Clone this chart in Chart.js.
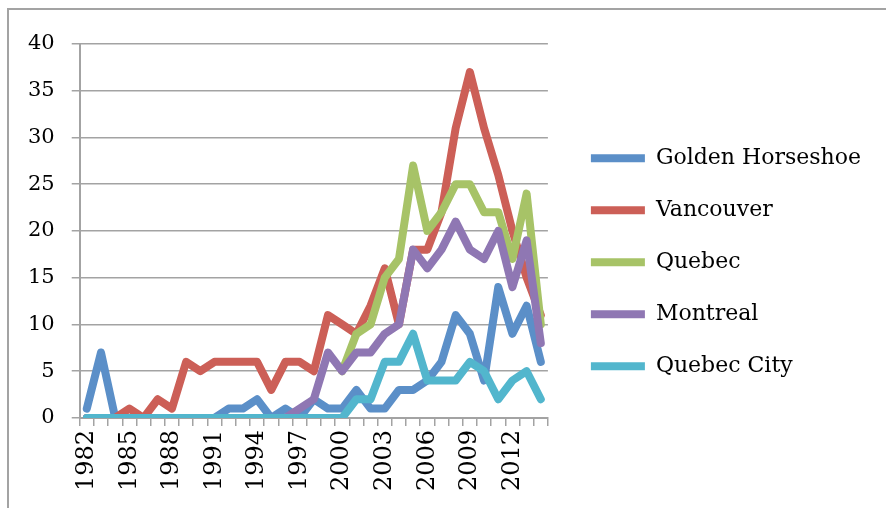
<!DOCTYPE html>
<html>
<head>
<meta charset="utf-8">
<script src="https://cdn.jsdelivr.net/npm/chart.js@4.4.1/dist/chart.umd.min.js"></script>
<style>
  body { margin: 0; background: #fff; overflow: hidden; }
  #frame { position: absolute; left: 7px; top: 8px; width: 1000px; height: 1000px; border: 2px solid #a3a3a3; }
  #myChart { position: absolute; left: 0; top: 0; }
</style>
</head>
<body>
<div id="frame"></div>
<canvas id="myChart" width="886" height="508"></canvas>
<script>
const years = ['1982','1983','1984','1985','1986','1987','1988','1989','1990','1991',
  '1992','1993','1994','1995','1996','1997','1998','1999','2000','2001',
  '2002','2003','2004','2005','2006','2007','2008','2009','2010','2011',
  '2012','2013','2014'];

const goldenHorseshoe = [1,7,0,0,0,0,0,0,0,0, 1,1,2,0,1,0,2,1,1,3, 1,1,3,3,4,6,11,9,4,14, 9,12,6];
const vancouver = [0,0,0,1,0,2,1,6,5,6, 6,6,6,3,6,6,5,11,10,9, 12,16,10,18,18,22,31,37,31,26, 20,15,11];
const quebec = [null,null,null,null,null,null,null,null,null,null,
  null,null,null,null,null,null,null,null,5,9, 10,15,17,27,20,22,25,25,22,22, 17,24,10];
const montreal = [0,0,0,0,0,0,0,0,0,0, 0,0,0,0,0,1,2,7,5,7, 7,9,10,18,16,18,21,18,17,20, 14,19,8];
const quebecCity = [0,0,0,0,0,0,0,0,0,0, 0,0,0,0,0,0,0,0,0,2, 2,6,6,9,4,4,4,6,5,2, 4,5,2];

const yTicks = [0, 5, 10, 15, 20, 25, 30, 35, 40];

const gridColor = '#a3a3a3';
const serif = 'DejaVu Serif';

function series(label, data, color, order) {
  return {
    label: label,
    data: data,
    borderColor: color,
    backgroundColor: color,
    borderWidth: 8,
    borderCapStyle: 'round',
    borderJoinStyle: 'round',
    pointRadius: 0,
    pointStyle: 'line',
    tension: 0,
    fill: false,
    order: order
  };
}

const ctx = document.getElementById('myChart').getContext('2d');
const myChart = new Chart(ctx, {
  type: 'line',
  data: {
    labels: years,
    datasets: [
      series('Golden Horseshoe', goldenHorseshoe, '#5b8fc8', 5),
      series('Vancouver', vancouver, '#cc5f57', 4),
      series('Quebec', quebec, '#a7c367', 3),
      series('Montreal', montreal, '#8f77b3', 2),
      series('Quebec City', quebecCity, '#52b6cd', 1)
    ]
  },
  options: {
    responsive: false,
    animation: false,
    devicePixelRatio: 1,
    layout: { padding: { left: 11, top: 44, right: 15, bottom: 13 } },
    plugins: {
      tooltip: { enabled: false },
      legend: {
        position: 'right',
        fullSize: false,
        maxWidth: 360,
        title: { display: true, text: '', padding: { top: 48, bottom: 0 } },
        labels: {
          usePointStyle: true,
          pointStyleWidth: 54,
          padding: 30,
          color: '#000',
          font: { family: serif, size: 22 },
          sort: (a, b) => a.datasetIndex - b.datasetIndex
        }
      }
    },
    scales: {
      x: {
        offset: true,
        grid: { offset: true, drawOnChartArea: false, drawTicks: true, tickLength: 8, color: gridColor, lineWidth: 1.5 },
        border: { display: true, color: gridColor, width: 2 },
        ticks: {
          autoSkip: false,
          minRotation: 90,
          maxRotation: 90,
          padding: 4,
          color: '#000',
          font: { family: serif, size: 24 },
          callback: function (value, index) {
            return index % 3 === 0 ? years[index] : '';
          }
        }
      },
      y: {
        min: 0,
        max: 40,
        afterBuildTicks: (scale) => { scale.ticks = yTicks.map(v => ({ value: v })); },
        grid: { color: gridColor, lineWidth: 1.5, tickLength: 8 },
        border: { display: true, color: gridColor, width: 2 },
        ticks: { padding: 17, color: '#000', font: { family: serif, size: 21 } }
      },
      gap: {
        type: 'linear',
        position: 'right',
        display: true,
        grid: { display: false },
        border: { display: false },
        ticks: { display: false },
        afterFit: (scale) => { scale.width = 13; }
      }
    }
  }
});
</script>
</body>
</html>
